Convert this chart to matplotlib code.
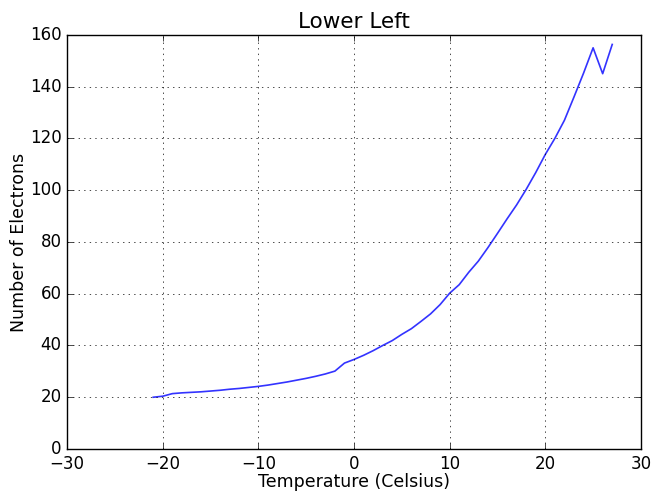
import matplotlib
matplotlib.use("Agg")
from matplotlib import pyplot as plt

# temperature readings and electron counts
temps = list(range(-21, 28))
electrons = [20.0, 20.4, 21.4, 21.7, 21.9, 22.1, 22.4, 22.7, 23.1, 23.4,
             23.8, 24.2, 24.7, 25.3, 25.9, 26.6, 27.3, 28.1, 29.0, 30.1,
             33.2, 34.6, 36.2, 38.0, 40.0, 41.9, 44.3, 46.5, 49.3, 52.2,
             55.8, 60.2, 63.5, 68.3, 72.6, 77.8, 83.3, 88.9, 94.3, 100.3,
             106.8, 113.8, 120.0, 127.0, 136.0, 145.2, 155.0, 145.0, 156.3]

plt.style.use('classic')
fig = plt.figure(figsize=(6.52, 4.91), dpi=100, facecolor='white')
ax = fig.add_axes([0.103, 0.0855, 0.88, 0.8435])

ax.plot(temps, electrons, color='#3333ff', linewidth=1.2)
ax.set_xlim(-30, 30)
ax.set_ylim(0, 160)
ax.grid(True)
ax.set_title('Lower Left', fontsize=15.5)
ax.set_xlabel('Temperature (Celsius)', fontsize=12.5, labelpad=0)
ax.set_ylabel('Number of Electrons', fontsize=12.5, labelpad=1)
ax.tick_params(labelsize=12)

fig.savefig('out.png', dpi=100, facecolor='white')
